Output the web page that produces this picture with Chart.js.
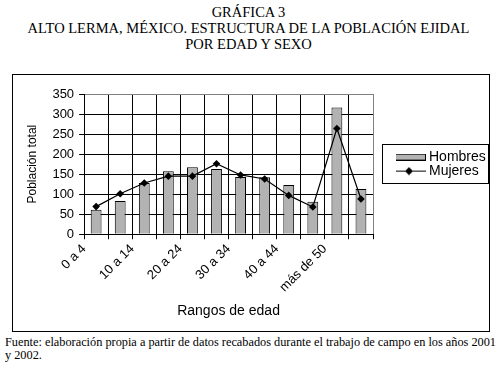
<!DOCTYPE html>
<html>
<head>
<meta charset="utf-8">
<script src="https://cdn.jsdelivr.net/npm/chart.js@4/dist/chart.umd.min.js"></script>
<style>
  html, body { margin: 0; padding: 0; background: #fff; }
  body { width: 497px; height: 374px; position: relative; overflow: hidden; }
  .title {
    position: absolute; left: 0; top: 4px; width: 497px; text-align: center;
    font-family: "Liberation Serif", "Times New Roman", serif; font-size: 14.5px; line-height: 16px; color: #000;
  }
  .frame { position: absolute; left: 12px; top: 74px; width: 476px; height: 256px; border: 1px solid #000; }
  .frame canvas { display: block; }
  .source {
    position: absolute; left: 5px; top: 336px; white-space: nowrap;
    font-family: "Liberation Serif", "Times New Roman", serif; font-size: 12.3px; line-height: 13px; color: #000;
  }
</style>
</head>
<body>
<div class="title">GRÁFICA 3<br>ALTO LERMA, MÉXICO. ESTRUCTURA DE LA POBLACIÓN EJIDAL<br>POR EDAD Y SEXO</div>
<div class="frame"><canvas id="chart" width="476" height="256"></canvas></div>
<div class="source">Fuente: elaboración propia a partir de datos recabados durante el trabajo de campo en los años 2001<br>y 2002.</div>
<script>
// age groups; only every second one is labelled on the axis, the last one is never shown
const ageGroups = ['0 a 4', '5 a 9', '10 a 14', '15 a 19', '20 a 24', '25 a 29',
  '30 a 34', '35 a 39', '40 a 44', '45 a 49', 'más de 50', ''];
const hombres = [61, 83, 128, 157, 167, 163, 143, 142, 123, 81, 316, 113];
const mujeres = [69, 101, 128, 145, 145, 176, 148, 138, 97, 68, 264, 88];
const yTicks = [0, 50, 100, 150, 200, 250, 300, 350];

const BAR_GRAY = '#b2b2b2';

Chart.defaults.font.family = '"Liberation Sans", Arial, sans-serif';
Chart.defaults.color = '#000';

const makeIcon = (w, h, draw) => {
  const c = document.createElement('canvas');
  c.width = w;
  c.height = h;
  draw(c.getContext('2d'));
  return c;
};

const barIcon = makeIcon(34, 7, (ctx) => {
  ctx.fillStyle = BAR_GRAY;
  ctx.fillRect(0.5, 0.5, 33, 6);
  ctx.strokeStyle = '#000';
  ctx.lineWidth = 1;
  ctx.strokeRect(0.5, 0.5, 33, 6);
});

const lineIcon = makeIcon(34, 9, (ctx) => {
  ctx.strokeStyle = '#000';
  ctx.lineWidth = 1.2;
  ctx.beginPath();
  ctx.moveTo(0, 4.5);
  ctx.lineTo(34, 4.5);
  ctx.stroke();
  ctx.fillStyle = '#000';
  ctx.beginPath();
  ctx.moveTo(17, 0.5);
  ctx.lineTo(21, 4.5);
  ctx.lineTo(17, 8.5);
  ctx.lineTo(13, 4.5);
  ctx.closePath();
  ctx.fill();
});

const legendIcons = [barIcon, lineIcon];

// thin frame round the legend entries, like the spreadsheet legend
const legendFrame = {
  id: 'legendFrame',
  afterDraw(chart) {
    const boxes = chart.legend && chart.legend.legendHitBoxes;
    if (!boxes || !boxes.length) return;
    const left = Math.min(...boxes.map((b) => b.left)) - 14;
    const right = Math.max(...boxes.map((b) => b.left + b.width)) + 2;
    const top = Math.min(...boxes.map((b) => b.top)) - 6;
    const bottom = Math.max(...boxes.map((b) => b.top + b.height)) + 5;
    const { ctx } = chart;
    ctx.save();
    ctx.strokeStyle = '#000';
    ctx.lineWidth = 1;
    ctx.strokeRect(Math.round(left) + 0.5, Math.round(top) + 0.5, Math.round(right - left), Math.round(bottom - top));
    ctx.restore();
  },
};

const ctx = document.getElementById('chart').getContext('2d');

new Chart(ctx, {
  data: {
    labels: ageGroups,
    datasets: [
      {
        type: 'bar',
        label: 'Hombres',
        data: hombres,
        backgroundColor: BAR_GRAY,
        borderColor: '#000',
        borderWidth: 1,
        barPercentage: 0.45,
        categoryPercentage: 1,
        order: 2,
      },
      {
        type: 'line',
        label: 'Mujeres',
        data: mujeres,
        borderColor: '#000',
        borderWidth: 1.2,
        tension: 0,
        pointStyle: 'rectRot',
        pointRadius: 3.8,
        pointBackgroundColor: '#000',
        pointBorderColor: '#000',
        pointBorderWidth: 0,
        order: 1,
      },
    ],
  },
  options: {
    responsive: false,
    animation: false,
    layout: { padding: { top: 19, right: 3, bottom: 11, left: 12 } },
    plugins: {
      tooltip: { enabled: false },
      legend: {
        position: 'right',
        fullSize: false,
        maxWidth: 90,
        labels: {
          usePointStyle: true,
          pointStyleWidth: 26,
          padding: 0,
          font: { size: 14, lineHeight: 1 },
          color: '#000',
          generateLabels: (chart) => chart.data.datasets.map((ds, i) => ({
            text: ds.label,
            pointStyle: legendIcons[i],
            datasetIndex: i,
            hidden: false,
            lineWidth: 0,
            fillStyle: 'transparent',
            strokeStyle: 'transparent',
          })),
        },
      },
    },
    scales: {
      x: {
        offset: true,
        grid: {
          offset: true,
          color: (c) => (c.tick ? '#000' : '#808080'),
          tickColor: '#000',
          tickLength: 5,
        },
        border: { color: '#000' },
        ticks: {
          autoSkip: false,
          minRotation: 45,
          maxRotation: 45,
          labelOffset: -12,
          padding: 2,
          font: { size: 13 },
          callback: (value, index) => (index % 2 === 0 ? ageGroups[index] : ''),
        },
        title: {
          display: true,
          text: 'Rangos de edad',
          font: { size: 14 },
          padding: { top: 6, bottom: 0 },
        },
      },
      y: {
        min: yTicks[0],
        max: yTicks[yTicks.length - 1],
        afterBuildTicks: (scale) => { scale.ticks = yTicks.map((v) => ({ value: v })); },
        grid: {
          color: (c) => (c.tick && c.tick.value === yTicks[yTicks.length - 1] ? '#808080' : '#000'),
          tickColor: '#000',
          tickLength: 5,
        },
        border: { color: '#000' },
        ticks: { padding: 5, font: { size: 13 } },
        title: {
          display: true,
          text: 'Población total',
          font: { size: 12 },
          padding: { top: 0, bottom: 8 },
        },
      },
      gap: {
        type: 'linear',
        position: 'right',
        display: true,
        grid: { display: false },
        border: { display: false },
        ticks: { display: false },
        afterFit: (scale) => { scale.width = 23; },
      },
    },
  },
  plugins: [legendFrame],
});
</script>
</body>
</html>
